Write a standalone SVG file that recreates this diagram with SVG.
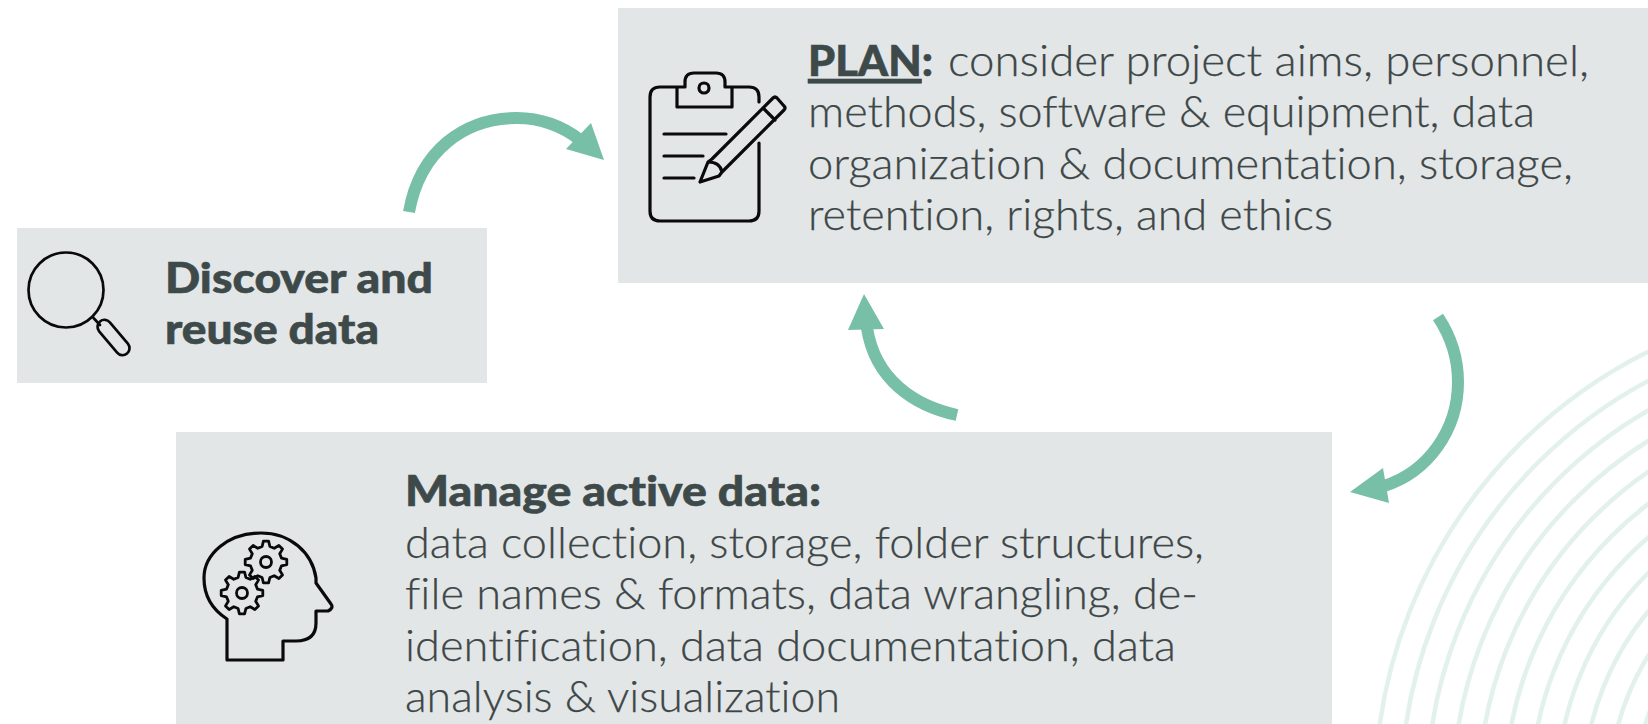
<svg xmlns="http://www.w3.org/2000/svg" width="1648" height="724" viewBox="0 0 1648 724">
<style>
.box{fill:#e3e6e7}
text{font-variant-ligatures:none}
.t{font-family:"Lato","Open Sans",sans-serif;font-size:43px;font-weight:300;fill:#3e4747;stroke:#3e4747;stroke-width:.25}
.b{font-family:"Lato","Open Sans",sans-serif;font-size:42px;font-weight:900;fill:#3e4a4a;stroke:#3e4a4a;stroke-width:.6}
.i{fill:none;stroke:#0a0a0a;stroke-width:3.2;stroke-linejoin:round;stroke-linecap:round}
.g{fill:none;stroke:#0a0a0a;stroke-width:2.8;stroke-linejoin:round}
.ring{fill:none;stroke:#e3f1ec;stroke-width:4.5}
.arc{fill:none;stroke:#78bfa8;stroke-width:12}
.head{fill:#78bfa8}
</style>
<defs>
<clipPath id="page"><rect x="0" y="0" width="1648" height="724"/></clipPath>
<path id="gear" d="M15.500-3.900L20.800-2.600V2.600L15.500 3.900L13.700 8.200L16.500 12.900L12.900 16.500L8.200 13.700L3.900 15.500L2.600 20.800H-2.600L-3.900 15.500L-8.200 13.700L-12.900 16.500L-16.500 12.900L-13.700 8.200L-15.500 3.900L-20.800 2.600V-2.600L-15.500-3.900L-13.700-8.200L-16.500-12.900L-12.900-16.500L-8.200-13.700L-3.900-15.500L-2.600-20.800H2.600L3.900-15.500L8.200-13.700L12.900-16.500L16.500-12.900L13.700-8.200Z"/>
</defs>
<g id="rings" clip-path="url(#page)">
<circle class="ring" cx="1868" cy="793" r="493"/><circle class="ring" cx="1868" cy="793" r="467"/><circle class="ring" cx="1868" cy="793" r="441"/><circle class="ring" cx="1868" cy="793" r="415"/><circle class="ring" cx="1868" cy="793" r="389"/><circle class="ring" cx="1868" cy="793" r="363"/><circle class="ring" cx="1868" cy="793" r="337"/><circle class="ring" cx="1868" cy="793" r="311"/><circle class="ring" cx="1868" cy="793" r="285"/><circle class="ring" cx="1868" cy="793" r="259"/><circle class="ring" cx="1868" cy="793" r="233"/>
</g>
<g id="node-plan">
<rect class="box" x="618" y="8" width="1030" height="275"/>
<path class="i" d="M677 87H660Q650 87 650 97V211Q650 221 660 221H749Q759 221 759 211V143M759 102V97Q759 87 749 87H732M677 87V107H732V87M685 87V82Q685 73 694 73H716Q725 73 725 82V87M677 87H685M725 87H732"/>
<circle class="i" cx="704" cy="88" r="5"/>
<path class="i" d="M664 134H726M664 156H703M664 178H694"/>
<path class="i" d="M700 182L708 162L712 159L773 98Q775 96 777 98L784 106Q786 108 784 110L722 172L719 176ZM763 108L775 120M708 162Q720 162 722 172"/>
<text class="b" x="808" y="76" textLength="125" lengthAdjust="spacingAndGlyphs"><tspan text-decoration="underline">PLAN</tspan>:</text>
<text class="t" x="948" y="76" textLength="641" lengthAdjust="spacingAndGlyphs">consider project aims, personnel,</text>
<text class="t" x="808" y="127" textLength="727" lengthAdjust="spacingAndGlyphs">methods, software &amp; equipment, data</text>
<text class="t" x="808" y="179" textLength="765" lengthAdjust="spacingAndGlyphs">organization &amp; documentation, storage,</text>
<text class="t" x="808" y="230" textLength="525" lengthAdjust="spacingAndGlyphs">retention, rights, and ethics</text>
</g>
<g id="node-discover">
<rect class="box" x="17" y="228" width="470" height="155"/>
<circle class="i" cx="66" cy="290" r="37.500" style="stroke-width:2.7"/>
<path class="i" d="M93.500 318L100 325" style="stroke-width:2.7"/>
<rect class="i" x="-21" y="-7" width="42" height="14" rx="7" transform="translate(113.500 337.500) rotate(50)" style="stroke-width:2.7"/>
<text class="b" x="165" y="293" textLength="268" lengthAdjust="spacingAndGlyphs">Discover and</text>
<text class="b" x="165" y="344" textLength="214" lengthAdjust="spacingAndGlyphs">reuse data</text>
</g>
<g id="node-manage">
<rect class="box" x="176" y="432" width="1156" height="292"/>
<path class="i" d="M227 619V660H283V641H296Q316 641 316 623V611H328Q334 608 331 604L316 583V578C312 552 290 533 261 533C228 533 204 554 204 578C204 597 213 610 227 619Z"/>
<use href="#gear" class="g" x="266" y="562"/><use href="#gear" class="g" x="242" y="593"/>
<circle class="g" cx="266" cy="562" r="5.500"/><circle class="g" cx="242" cy="593" r="5.500"/>
<text class="b" x="405" y="506" textLength="416" lengthAdjust="spacingAndGlyphs">Manage active data:</text>
<text class="t" x="405" y="558" textLength="799" lengthAdjust="spacingAndGlyphs">data collection, storage, folder structures,</text>
<text class="t" x="405" y="609" textLength="793" lengthAdjust="spacingAndGlyphs">file names &amp; formats, data wrangling, de-</text>
<text class="t" x="405" y="661" textLength="771" lengthAdjust="spacingAndGlyphs">identification, data documentation, data</text>
<text class="t" x="405" y="712" textLength="435" lengthAdjust="spacingAndGlyphs">analysis &amp; visualization</text>
</g>
<g id="connectors">
<path class="arc" d="M409 212C420 150 465 118 517 118C540 118 563 126 580 140"/>
<path class="head" d="M604 160L591 123L566 149Z"/>
<path class="arc" d="M1438 317C1452 338 1458 360 1458 382C1458 430 1428 472 1384 486"/>
<path class="head" d="M1350 492L1383 468L1389 503Z"/>
<path class="arc" d="M957 415C915 406 875 380 867 328"/>
<path class="head" d="M864 294L848 330L884 329Z"/>
</g>
</svg>
